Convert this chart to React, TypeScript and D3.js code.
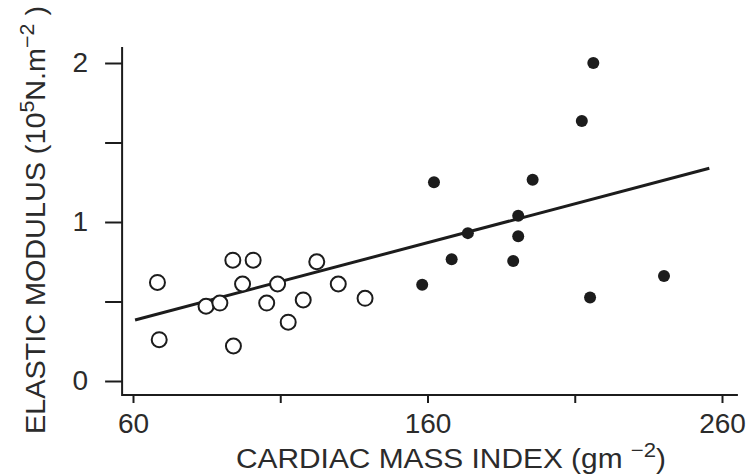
import React, { useRef, useEffect } from 'react';
import * as d3 from 'd3';

// axis ticks
const xTicks = [60, 110, 160, 210, 260];
const xTickLabels = ['60', '', '160', '', '260'];
const yTicks = [0, 0.5, 1, 1.5, 2];
const yTickLabels = ['0', '', '1', '', '2'];

// open circles (controls)
const controlMassIndex = [68.3, 68.9, 84.8, 89.5, 93.9, 94.1, 97.2, 100.8, 105.4, 109.1, 112.7, 117.8, 122.4, 129.7, 138.8];
const controlModulus = [0.62, 0.26, 0.47, 0.49, 0.76, 0.22, 0.61, 0.76, 0.49, 0.61, 0.37, 0.51, 0.75, 0.61, 0.52];

// filled dots (patients)
const patientMassIndex = [216.3, 212.4, 162.2, 195.7, 190.8, 173.7, 190.8, 168.2, 189.1, 158.2, 240.3, 215.2];
const patientModulus = [2.0, 1.635, 1.25, 1.265, 1.04, 0.93, 0.91, 0.765, 0.755, 0.605, 0.66, 0.525];

// regression line end points
const fitMassIndex = [60.7, 255.7];
const fitModulus = [0.384, 1.338];

// axis line extents (data units)
const xAxisExtent = [56.3, 265.4];
const yAxisExtent = [-0.088, 2.1];

export default function App() {
  const svgRef = useRef<SVGSVGElement>(null);

  useEffect(() => {
    const svg = d3.select(svgRef.current);
    svg.selectAll('*').remove();

    const ink = '#1c1c1c';
    const textInk = '#2b2b2b';
    const font = "'Liberation Sans', Arial, Helvetica, sans-serif";

    const xScale = d3.scaleLinear().domain([60, 260]).range([133, 722]);
    const yScale = d3.scaleLinear().domain([0, 2]).range([381, 63]);

    const axisX = xScale(xAxisExtent[0]);
    const axisY = yScale(yAxisExtent[0]);

    // Y axis
    const yAxis = d3.axisLeft(yScale)
      .tickValues(yTicks)
      .tickFormat((d, i) => yTickLabels[i])
      .tickSizeInner(17)
      .tickSizeOuter(0)
      .tickPadding(17);

    const yAxisGroup = svg.append('g')
      .attr('transform', `translate(${axisX}, 0)`)
      .call(yAxis);
    yAxisGroup.select('.domain').remove();
    yAxisGroup.selectAll('line').attr('stroke', ink).attr('stroke-width', 2);
    yAxisGroup.selectAll('text')
      .attr('font-size', 28)
      .attr('font-family', font)
      .attr('fill', textInk);

    // X axis
    const xAxis = d3.axisBottom(xScale)
      .tickValues(xTicks)
      .tickFormat((d, i) => xTickLabels[i])
      .tickSizeInner(8)
      .tickSizeOuter(0)
      .tickPadding(10);

    const xAxisGroup = svg.append('g')
      .attr('transform', `translate(0, ${axisY})`)
      .call(xAxis);
    xAxisGroup.select('.domain').remove();
    xAxisGroup.selectAll('line').attr('stroke', ink).attr('stroke-width', 2);
    xAxisGroup.selectAll('text')
      .attr('font-size', 28)
      .attr('font-family', font)
      .attr('fill', textInk);

    // axis lines
    svg.append('path')
      .attr('d', `M${axisX},${yScale(yAxisExtent[1])}V${axisY}H${xScale(xAxisExtent[1])}`)
      .attr('fill', 'none')
      .attr('stroke', ink)
      .attr('stroke-width', 2);

    // regression line
    const line = d3.line<number>()
      .x((d, i) => xScale(fitMassIndex[i]))
      .y(d => yScale(d));

    svg.append('path')
      .datum(fitModulus)
      .attr('d', line)
      .attr('fill', 'none')
      .attr('stroke', ink)
      .attr('stroke-width', 3);

    // open circles
    svg.append('g')
      .selectAll('circle')
      .data(controlModulus)
      .join('circle')
      .attr('cx', (d, i) => xScale(controlMassIndex[i]))
      .attr('cy', d => yScale(d))
      .attr('r', 7.5)
      .attr('fill', 'white')
      .attr('stroke', ink)
      .attr('stroke-width', 2);

    // filled dots
    svg.append('g')
      .selectAll('circle')
      .data(patientModulus)
      .join('circle')
      .attr('cx', (d, i) => xScale(patientMassIndex[i]))
      .attr('cy', d => yScale(d))
      .attr('r', 6)
      .attr('fill', ink);

    // y axis title
    const yTitle = svg.append('text')
      .attr('transform', 'translate(45, 220) rotate(-90)')
      .attr('text-anchor', 'middle')
      .attr('font-family', font)
      .attr('font-size', 27)
      .attr('fill', textInk)
      .attr('textLength', 428)
      .attr('lengthAdjust', 'spacingAndGlyphs');
    yTitle.append('tspan').text('ELASTIC MODULUS (10');
    yTitle.append('tspan').attr('dy', -11).attr('font-size', 20).text('5');
    yTitle.append('tspan').attr('dy', 11).text('N.m');
    yTitle.append('tspan').attr('dy', -11).attr('font-size', 20).text('\u22122');
    yTitle.append('tspan').attr('dy', 11).text(' )');

    // x axis title
    const xTitle = svg.append('text')
      .attr('x', 451)
      .attr('y', 468)
      .attr('text-anchor', 'middle')
      .attr('font-family', font)
      .attr('font-size', 27)
      .attr('fill', textInk)
      .attr('textLength', 430)
      .attr('lengthAdjust', 'spacingAndGlyphs');
    xTitle.append('tspan').text('CARDIAC MASS INDEX (gm ');
    xTitle.append('tspan').attr('dy', -11).attr('font-size', 20).text('\u22122');
    xTitle.append('tspan').attr('dy', 11).text(')');
  }, []);

  return (
    <svg
      ref={svgRef}
      width={749}
      height={474}
      style={{ position: 'absolute', left: 0, top: 0, background: 'white' }}
    />
  );
}
